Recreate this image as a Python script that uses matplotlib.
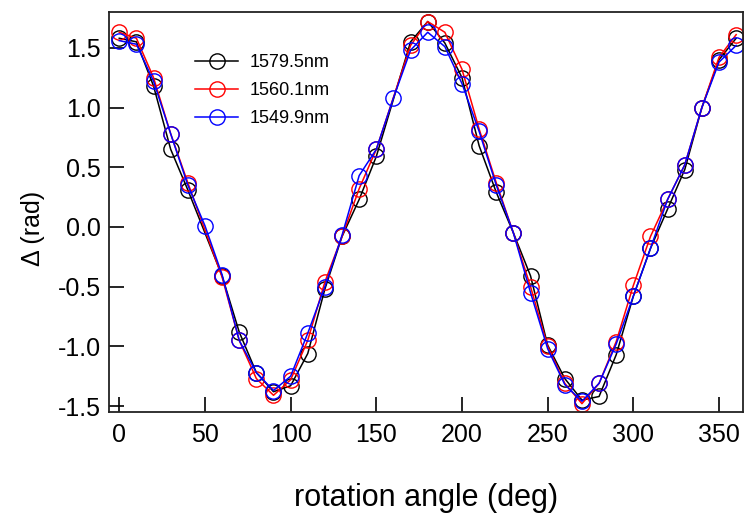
import matplotlib
matplotlib.use("Agg")
import matplotlib.pyplot as plt
import numpy as np

# ---- data ----
x_black = [0, 10, 20, 30, 40, 60, 70, 80, 90, 100, 110, 120, 130, 140, 150, 170, 180, 190,
           200, 210, 220, 230, 240, 250, 260, 270, 280, 290, 300, 310, 320, 330, 340, 350, 360]
y_black = [1.58, 1.55, 1.18, 0.65, 0.31, -0.41, -0.88, -1.22, -1.38, -1.33, -1.06, -0.52, -0.08,
           0.23, 0.59, 1.55, 1.72, 1.54, 1.25, 0.68, 0.29, -0.05, -0.41, -0.99, -1.27, -1.45,
           -1.42, -1.07, -0.58, -0.18, 0.15, 0.48, 1.00, 1.40, 1.58]

x_red = [0, 10, 20, 30, 40, 60, 70, 80, 90, 100, 110, 120, 130, 140, 150, 170, 180, 190,
         200, 210, 220, 230, 240, 250, 260, 270, 280, 290, 300, 310, 320, 330, 340, 350, 360]
y_red = [1.63, 1.58, 1.25, 0.78, 0.37, -0.42, -0.95, -1.27, -1.41, -1.28, -0.95, -0.46, -0.08,
         0.32, 0.65, 1.52, 1.72, 1.63, 1.32, 0.82, 0.37, -0.05, -0.50, -1.00, -1.31, -1.48,
         -1.31, -0.96, -0.49, -0.08, 0.23, 0.52, 1.00, 1.42, 1.61]

x_blue = [0, 10, 20, 30, 40, 50, 60, 70, 80, 90, 100, 110, 120, 130, 140, 150, 160, 170, 180,
          190, 200, 210, 220, 230, 240, 250, 260, 270, 280, 290, 300, 310, 320, 330, 340, 350, 360]
y_blue = [1.56, 1.53, 1.22, 0.78, 0.35, 0.01, -0.40, -0.95, -1.22, -1.37, -1.25, -0.89, -0.50,
          -0.07, 0.43, 0.65, 1.08, 1.48, 1.63, 1.51, 1.20, 0.80, 0.35, -0.05, -0.55, -1.02,
          -1.32, -1.46, -1.31, -0.98, -0.58, -0.18, 0.23, 0.52, 1.00, 1.38, 1.52]

labels = ["1579.5nm", "1560.1nm", "1549.9nm"]
colors = ["black", "#ff0000", "#0000ff"]

xticks = [0, 50, 100, 150, 200, 250, 300, 350]
yticks = [-1.5, -1.0, -0.5, 0.0, 0.5, 1.0, 1.5]

plt.rcParams['font.family'] = ['Liberation Sans', 'DejaVu Sans']

fig = plt.figure(figsize=(7.46, 5.14), dpi=100)
ax = fig.add_axes([0.1461, 0.1984, 0.8499, 0.7783])

for xs, ys, lab, c in zip([x_black, x_red, x_blue], [y_black, y_red, y_blue], labels, colors):
    ax.plot(xs, ys, color=c, lw=1.1, marker='o', ms=11, mfc='none', mec=c, mew=1.0, label=lab)

ax.set_xlim(-6, 364)
ax.set_ylim(-1.55, 1.80)
ax.set_xticks(xticks)
ax.set_yticks(yticks)
ax.set_yticklabels([f"{v:.1f}" for v in yticks])
ax.tick_params(direction='in', length=11, width=1.2, labelsize=18, pad=8,
               top=False, right=False)
ax.tick_params(axis='y', pad=6)
for s in ax.spines.values():
    s.set_linewidth(1.3)
    s.set_color('#222222')

ax.set_xlabel("rotation angle (deg)", fontsize=22, labelpad=26)
ax.set_ylabel("Δ (rad)", fontsize=18)
ax.yaxis.set_label_coords(-0.101, 0.46)

ax.legend(loc='upper left', bbox_to_anchor=(0.11, 0.935), frameon=False, fontsize=13,
          handlelength=2.4, handletextpad=0.6, labelspacing=0.6)

fig.savefig("out.png", dpi=100)
